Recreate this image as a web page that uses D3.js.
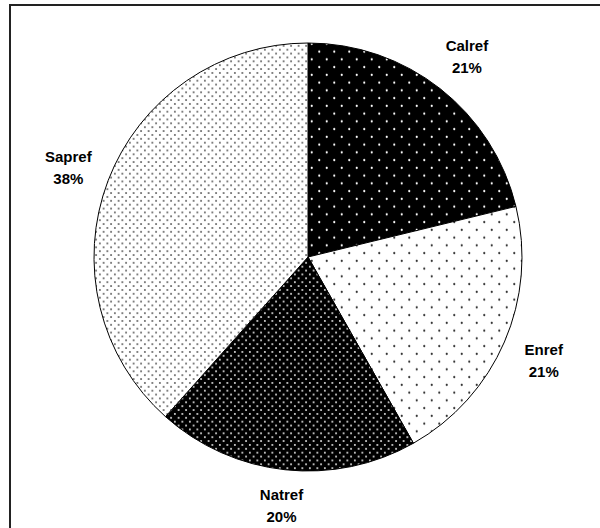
<!DOCTYPE html>
<html>
<head>
<meta charset="utf-8">
<script src="https://cdn.jsdelivr.net/npm/d3@7"></script>
<style>
  body { margin: 0; background: #fff; }
  svg { display: block; }
</style>
</head>
<body>
<svg class="pie"></svg>
<script>
const categories = ["Calref", "Enref", "Natref", "Sapref"]
const shares = [21.2, 20.6, 19.8, 38.4]
const shareLabels = ["21%", "21%", "20%", "38%"]

const width = 600
const height = 528
const cx = 308
const cy = 257
const radius = 214

const svg = d3.select('svg.pie').attr('width', width).attr('height', height)
const defs = svg.append('defs')

// dot fills: [background, dot colour, cell w, cell h, dot radius]
const fills = [
  ['#000', '#fff', 15, 15.5, 1.1],
  ['#fff', '#333', 15, 15.5, 1.1],
  ['#000', '#fff', 7.5, 7.75, 0.9],
  ['#fff', '#444', 7.5, 7.75, 0.85]
]

fills.forEach((f, i) => {
  const [bg, dot, w, h, r] = f
  const p = defs.append('pattern')
    .attr('id', 'fill' + i)
    .attr('patternUnits', 'userSpaceOnUse')
    .attr('width', w)
    .attr('height', h)
  p.append('rect').attr('width', w).attr('height', h).attr('fill', bg)
  p.append('circle').attr('cx', w / 4).attr('cy', h / 4).attr('r', r).attr('fill', dot)
  p.append('circle').attr('cx', w * 3 / 4).attr('cy', h * 3 / 4).attr('r', r).attr('fill', dot)
})

// outer frame
svg.append('rect')
  .attr('x', 10).attr('y', 5)
  .attr('width', 620).attr('height', 560)
  .attr('fill', 'none')
  .attr('stroke', '#222')
  .attr('stroke-width', 2)

const data = categories.map((c, i) => ({ name: c, value: shares[i], label: shareLabels[i], idx: i }))

const pie = d3.pie().sort(null).value(d => d.value)
const arc = d3.arc().innerRadius(0).outerRadius(radius)

const chart = svg.append('g').attr('transform', `translate(${cx}, ${cy})`)

chart.selectAll('path.slice')
  .data(pie(data))
  .enter()
  .append('path')
  .attr('class', 'slice')
  .attr('d', arc)
  .attr('fill', d => `url(#fill${d.data.idx})`)
  .attr('stroke', '#000')
  .attr('stroke-width', 1)

// label box sits just outside the rim, pushed out by its own half size
const boxW = 50
const boxH = 40
const gap = 12
function labelPos(d) {
  const a = (d.startAngle + d.endAngle) / 2
  const dx = Math.sin(a)
  const dy = -Math.cos(a)
  const ext = Math.abs(dx) * boxW / 2 + Math.abs(dy) * boxH / 2
  const r = radius + gap + ext
  return [dx * r, dy * r]
}

const labels = chart.selectAll('text.lbl')
  .data(pie(data))
  .enter()
  .append('text')
  .attr('class', 'lbl')
  .attr('text-anchor', 'middle')
  .style('font-family', 'Arial, "Liberation Sans", sans-serif')
  .style('font-weight', 'bold')
  .style('font-size', '15px')
  .attr('transform', d => {
    const [x, y] = labelPos(d)
    return `translate(${x}, ${y})`
  })

labels.append('tspan').attr('x', 0).attr('y', -4).text(d => d.data.name)
labels.append('tspan').attr('x', 0).attr('y', 18).text(d => d.data.label)
</script>
</body>
</html>
